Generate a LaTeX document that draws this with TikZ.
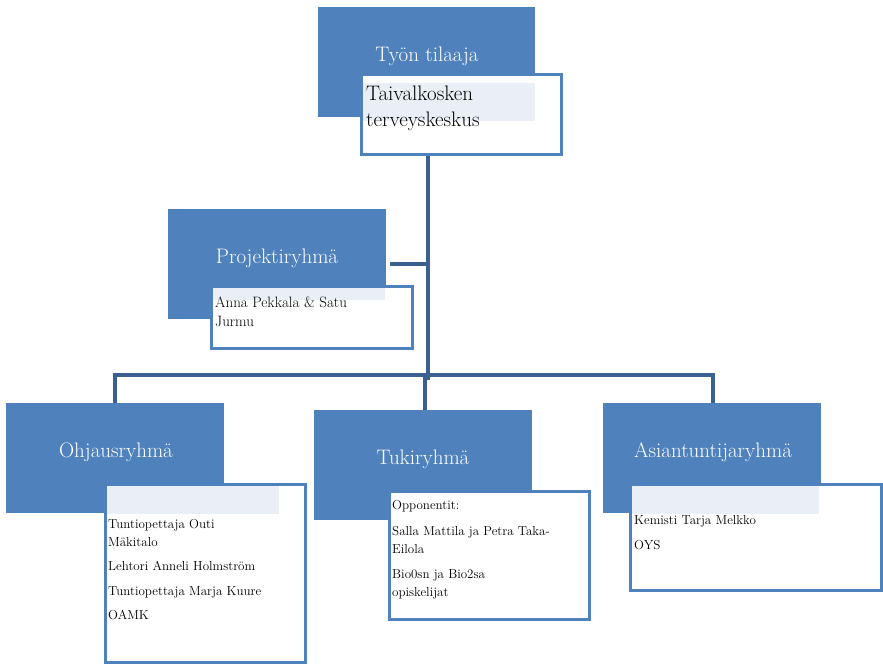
\documentclass[tikz,border=0pt]{standalone}
\usetikzlibrary{positioning}
\definecolor{boxblue}{HTML}{4F81BD}
\definecolor{lineblue}{HTML}{3C5F91}
\definecolor{paleblue}{HTML}{E9EEF7}
\tikzset{
  head/.style={fill=boxblue, draw=none, anchor=north west, text=white,
    font=\fontsize{21}{24}\selectfont, inner sep=0pt},
  member/.style={fill=white, draw=boxblue, line width=2.5pt, anchor=north west, inner sep=0pt},
  band/.style={fill=paleblue, draw=none, anchor=north west, inner sep=0pt},
  names/.style={anchor=north west, align=left, font=\fontsize{13}{18}\selectfont, inner sep=0pt},
  link/.style={draw=lineblue, line width=3.5pt}
}
\begin{document}
\begin{tikzpicture}[x=1pt,y=-1pt]
  \useasboundingbox (0,0) rectangle (883,667);
  % lines first
  \coordinate (top) at (428,153);
  \coordinate (mid) at (428,380);
  \coordinate (pj) at (390,264);
  \coordinate (pjx) at (428,264);
  \coordinate (hl) at (115,375);
  \coordinate (hr) at (713,375);
  \coordinate (hm) at (425,375);
  \draw[link] (top) -- (mid);
  \draw[link] (pj) -- (pjx);
  \draw[link] (hl |- 0,405) -- (hl) -- (hr) -- (hr |- 0,405);
  \draw[link] (hm) -- (hm |- 0,412);

  % top
  \node[head, minimum width=217pt, minimum height=110pt] (tilaaja) at (318,7) {};
  \node[text=white, font=\fontsize{21}{24}\selectfont] at (427,56) {Työn tilaaja};
  \node[member, minimum width=200pt, minimum height=80pt] (tk) at (360,73) {};
  \node[band, minimum width=172pt, minimum height=38pt] at (363,83) {};
  \node[anchor=north west, align=left, inner sep=0pt, font=\fontsize{21}{26}\selectfont] (tktext) at (366,86) {Taivalkosken\\terveyskeskus};

  % projekti
  \node[head, minimum width=218pt, minimum height=110pt] (projekti) at (168,209) {};
  \node[text=white, font=\fontsize{21}{24}\selectfont] at (277,258) {Projektiryhmä};
  \node[member, minimum width=201pt, minimum height=62pt] (pm) at (210,285) {};
  \node[band, minimum width=172pt, minimum height=12pt] at (213,288) {};
  \node[names, font=\fontsize{15}{19}\selectfont] at (215,297) {Anna Pekkala \& Satu\\Jurmu};

  % ohjaus
  \node[head, minimum width=218pt, minimum height=110pt] (ohjaus) at (6,403) {};
  \node[text=white, font=\fontsize{21}{24}\selectfont] at (116,452) {Ohjausryhmä};
  \node[member, minimum width=200pt, minimum height=178pt] (om) at (104,483) {};
  \node[band, minimum width=172pt, minimum height=28pt] at (107,486) {};
  \node[names] at (108,519) {Tuntiopettaja Outi\\Mäkitalo};
  \node[names] at (108,561) {Lehtori Anneli Holmström};
  \node[names] at (108,586) {Tuntiopettaja Marja Kuure};
  \node[names] at (108,610) {OAMK};

  % tuki
  \node[head, minimum width=218pt, minimum height=110pt] (tuki) at (314,410) {};
  \node[text=white, font=\fontsize{21}{24}\selectfont] at (423,459) {Tukiryhmä};
  \node[member, minimum width=200pt, minimum height=128pt] (tm) at (388,490) {};
  \node[names] at (392,500) {Opponentit:};
  \node[names] at (392,526) {Salla Mattila ja Petra Taka-\\Eilola};
  \node[names] at (392,569) {Bio0sn ja Bio2sa\\opiskelijat};

  % asiantuntija
  \node[head, minimum width=218pt, minimum height=110pt] (asiantuntija) at (603,403) {};
  \node[text=white, font=\fontsize{21}{24}\selectfont] at (713,452) {Asiantuntijaryhmä};
  \node[member, minimum width=251pt, minimum height=106pt] (am) at (629,483) {};
  \node[band, minimum width=187pt, minimum height=28pt] at (632,486) {};
  \node[names] at (634,515) {Kemisti Tarja Melkko};
  \node[names] at (634,540) {OYS};
\end{tikzpicture}
\end{document}
